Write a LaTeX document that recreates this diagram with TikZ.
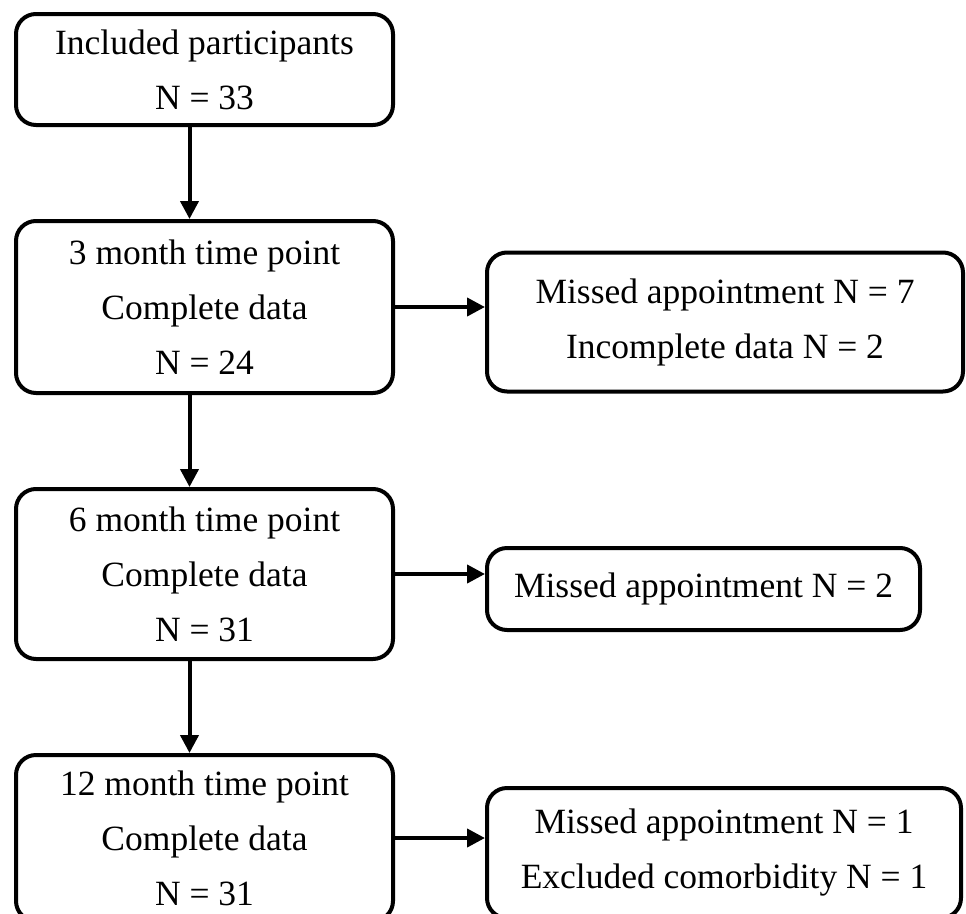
\documentclass[tikz,border=0pt]{standalone}
\usepackage{fontspec}
\setmainfont{Liberation Serif}
\usetikzlibrary{arrows.meta,positioning}

\begin{document}
\begin{tikzpicture}[
  x=1pt,y=-1pt,
  >={Triangle[length=18pt,width=18pt]},
  node distance=92pt and 90pt,
  every node/.style={draw,rounded corners=20pt,inner sep=0pt,align=center,
    font=\fontsize{35.5pt}{55pt}\selectfont},
  every path/.style={line width=4pt},
  stage/.style={minimum width=377pt,minimum height=#1},
  lost/.style={yshift=-15pt}
]
  \useasboundingbox (0,0) rectangle (966,913);
  \node[stage=111pt] (incl) at (204.5,69.5) {Included participants\\N = 33};
  \node[below=of incl,stage=172pt] (m3) {3 month time point\\Complete data\\N = 24};
  \node[below=of m3,stage=170pt] (m6) {6 month time point\\Complete data\\N = 31};
  \node[below=of m6,stage=166pt,node distance=90pt] (m12) {12 month time point\\Complete data\\N = 31};

  \node[right=of m3,lost,minimum width=476pt,minimum height=139pt] (lost3)
    {Missed appointment N = 7\\Incomplete data N = 2};
  \node[right=of m6,lost,minimum width=433pt,minimum height=82pt] (lost6)
    {Missed appointment N = 2};
  \node[right=of m12,lost,minimum width=474pt,minimum height=130pt] (lost12)
    {Missed appointment N = 1\\Excluded comorbidity N = 1};

  \draw[->] ([xshift=-15pt]incl.south) -- ([xshift=-15pt]m3.north);
  \draw[->] ([xshift=-15pt]m3.south) -- ([xshift=-15pt]m6.north);
  \draw[->] ([xshift=-15pt]m6.south) -- ([xshift=-15pt]m12.north);
  \draw[->] (m3.east) -- (m3.east -| lost3.west);
  \draw[->] (m6.east) -- (m6.east -| lost6.west);
  \draw[->] (m12.east) -- (m12.east -| lost12.west);
\end{tikzpicture}
\end{document}
